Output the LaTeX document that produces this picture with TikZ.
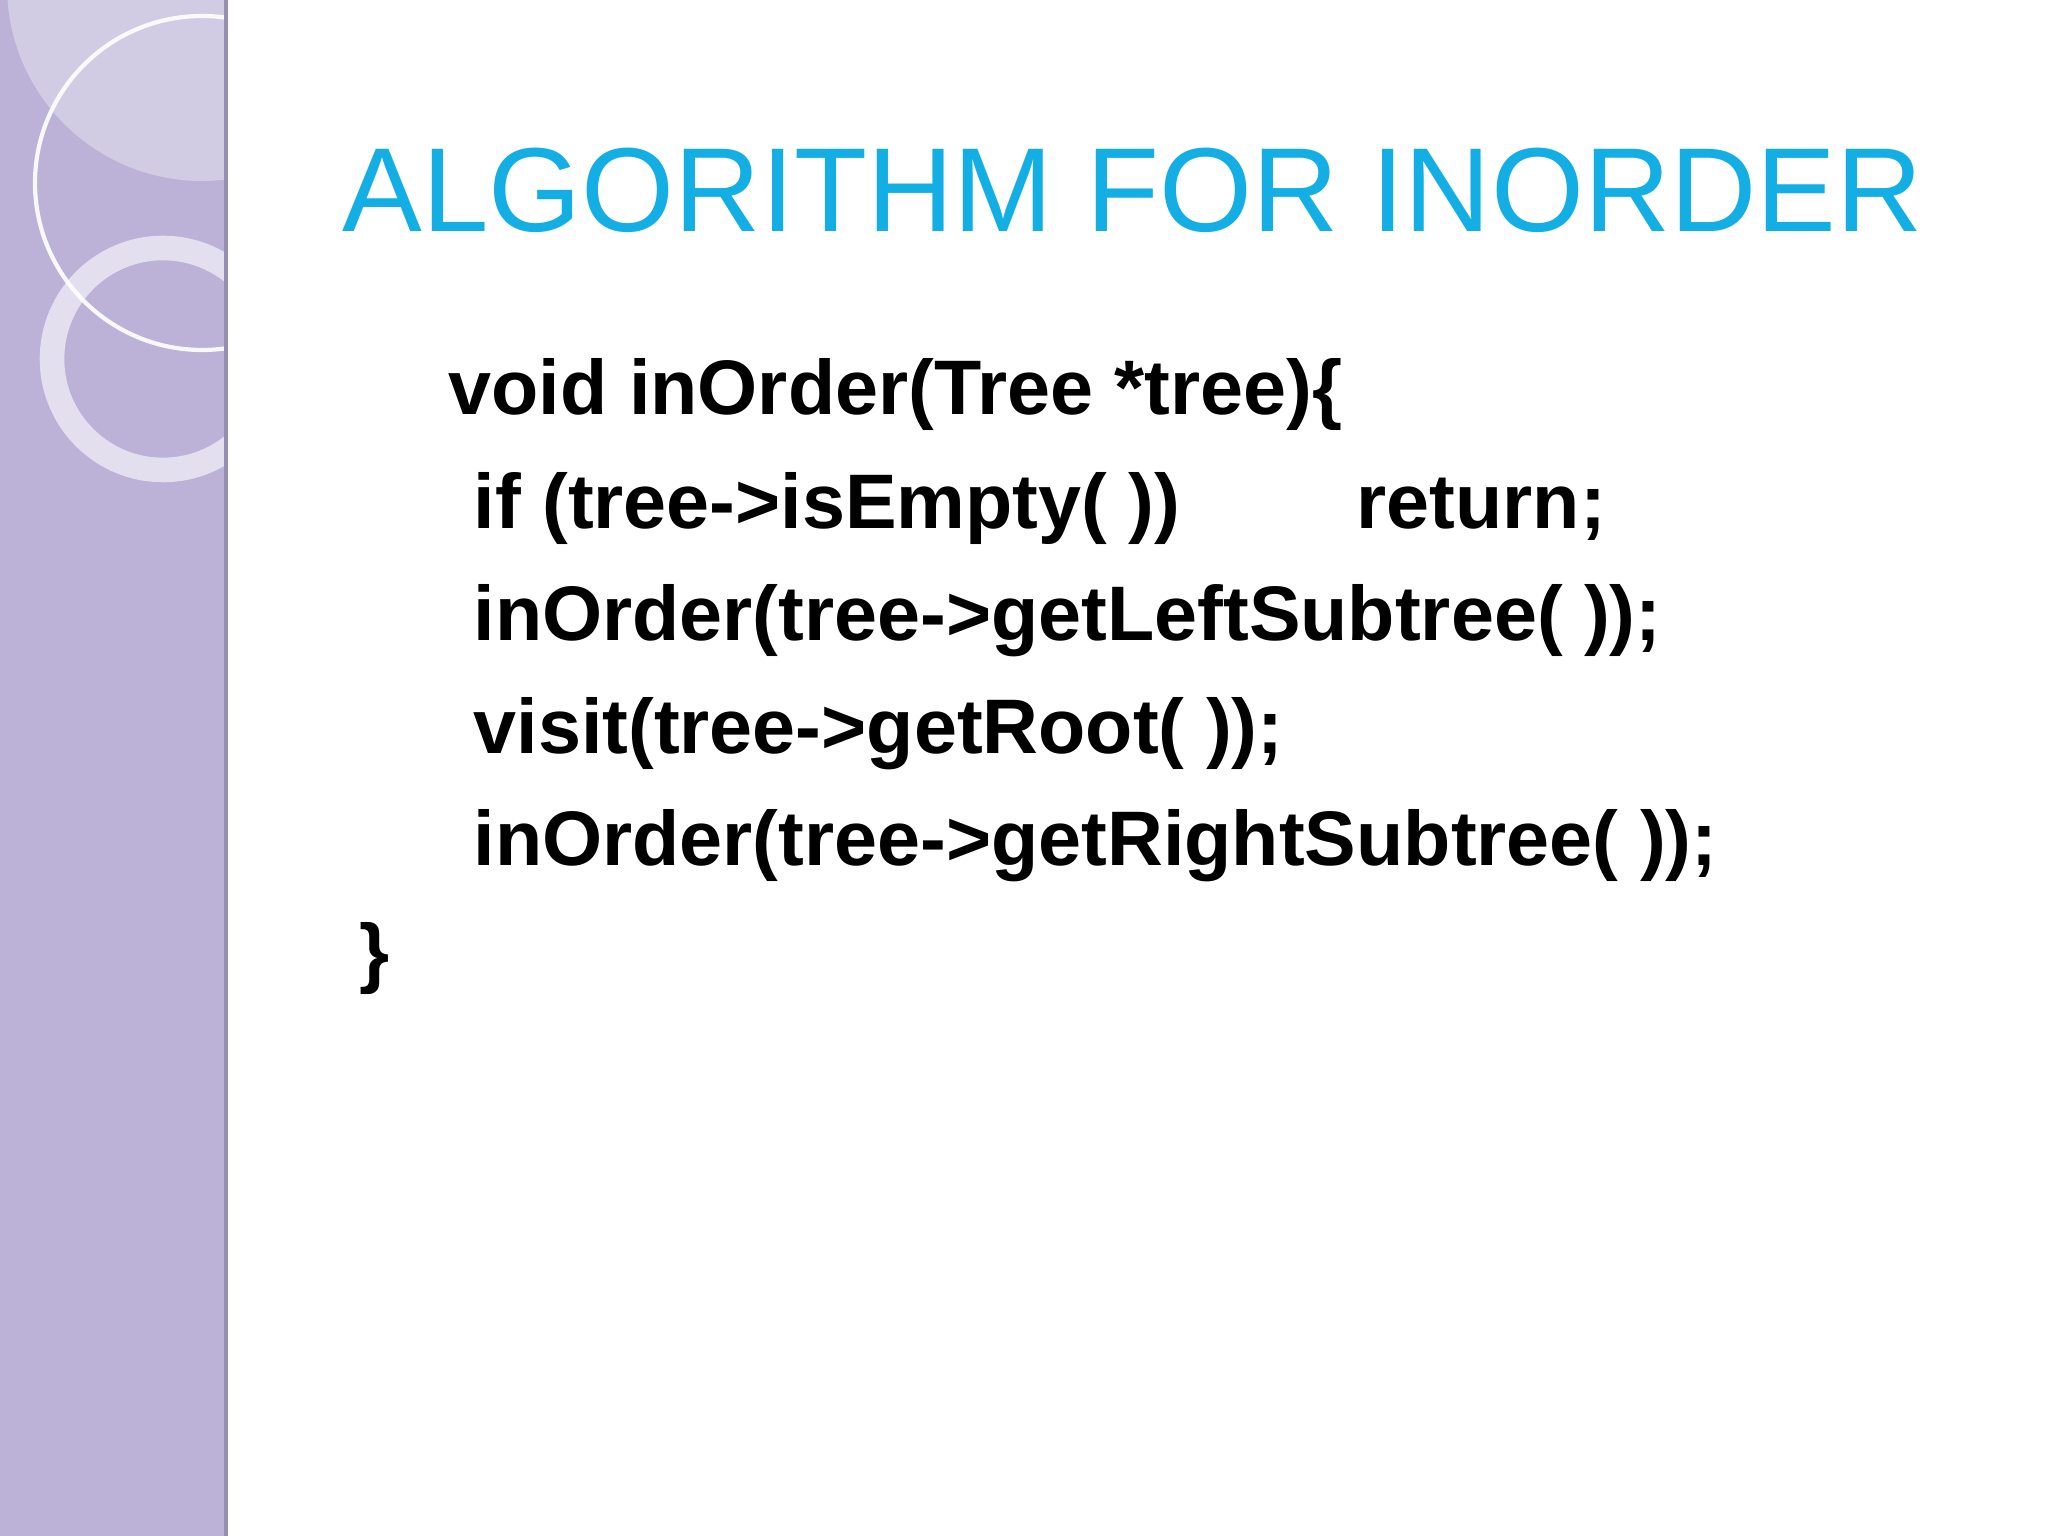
\documentclass[tikz,border=0pt]{standalone}
\usepackage{fontspec}
\setmainfont{Liberation Sans}
\definecolor{side}{HTML}{BCB1D6}
\definecolor{sidel}{HTML}{D2CBE4}
\definecolor{ttl}{HTML}{12AEE4}
\begin{document}
\begin{tikzpicture}[x=1cm,y=1cm,
  code/.style={anchor=base west,inner sep=0pt,font=\fontsize{22pt}{26pt}\selectfont\bfseries}]
\useasboundingbox (0,0) rectangle (20.48,15.36);
\fill[white] (0,0) rectangle (20.48,15.36);
\fill[side] (0,0) rectangle (2.26,15.36);
\begin{scope}
\clip (0,0) rectangle (2.26,15.36);
\fill[sidel] (2.02,15.5) circle (1.95);
\draw[white,line width=1.2pt,opacity=0.9] (2.02,13.53) circle (1.67);
\draw[white,line width=7pt,opacity=0.6] (1.63,11.77) circle (1.11);
\end{scope}
\draw[side!80!black,line width=1pt] (2.26,0) -- (2.26,15.36);
\node[anchor=base west,inner sep=0pt,text=ttl,font=\fontsize{34pt}{40pt}\selectfont] (title) at (3.42,13.04) {ALGORITHM FOR INORDER};
\node[code] (l1) at (4.48,11.21) {void inOrder(Tree *tree)\{};
\node[code] (l2) at (4.73,10.07) {if (tree->isEmpty( ))};
\node[code] (l2b) at (13.56,10.07) {return;};
\node[code] (l3) at (4.73,8.95) {inOrder(tree->getLeftSubtree( ));};
\node[code] (l4) at (4.73,7.82) {visit(tree->getRoot( ));};
\node[code] (l5) at (4.73,6.70) {inOrder(tree->getRightSubtree( ));};
\node[code] (l6) at (3.59,5.57) {\}};
\end{tikzpicture}
\end{document}
